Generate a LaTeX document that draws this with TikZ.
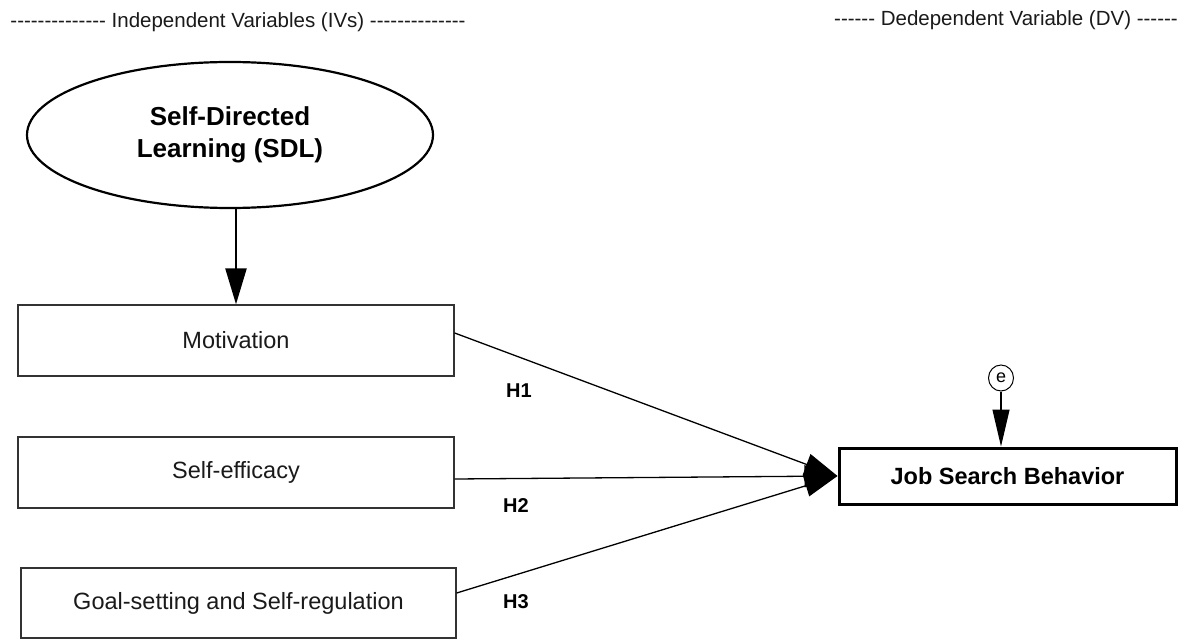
\documentclass[tikz,border=0pt]{standalone}
\usepackage{fontspec}
\setmainfont{Liberation Sans}[Ligatures=TeXOff]
\usetikzlibrary{shapes.geometric,arrows.meta}
\definecolor{ink}{HTML}{1A1A1A}
\definecolor{edge}{HTML}{333333}
\tikzset{
  ivbox/.style={draw=edge, line width=1.3pt, rectangle, inner sep=0pt, text=ink,
    font=\fontsize{23.5}{28}\selectfont},
  dvbox/.style={draw=black, line width=3pt, rectangle, inner sep=0pt, text=black,
    font=\bfseries\fontsize{23.5}{28}\selectfont},
  latent/.style={draw=black, line width=2.2pt, ellipse, inner sep=0pt, align=center,
    text=black, font=\bfseries\fontsize{26}{32}\selectfont},
  errnode/.style={draw=black, line width=1pt, ellipse, inner sep=0pt,
    minimum width=25pt, minimum height=26pt, font=\fontsize{18}{20}\selectfont},
  hlabel/.style={font=\bfseries\fontsize{20}{24}\selectfont, text=black, inner sep=0pt},
  header/.style={font=\fontsize{20.5}{24}\selectfont, text=ink, inner sep=0pt},
  patharrow/.style={draw=black, line width=1.3pt, -{Triangle[length=33pt,width=22pt]}},
  sdlarrow/.style={draw=black, line width=2.4pt, -{Triangle[length=36pt,width=21pt]}},
  errarrow/.style={draw=black, line width=1.2pt, -{Triangle[length=37pt,width=17pt]}}
}
\begin{document}
\begin{tikzpicture}[x=1pt,y=-1pt]
\useasboundingbox[fill=white] (0,0) rectangle (1183,639);

% headers
\node[header] (hiv) at (238,22) {-------------- Independent Variables (IVs) --------------};
\node[header] (hdv) at (1006,20) {------ Dedependent Variable (DV) ------};

% latent construct
\node[latent, minimum width=406pt, minimum height=146pt] (sdl) at (230,135)
  {Self-Directed\\Learning (SDL)};

% independent variables
\node[ivbox, minimum width=436pt, minimum height=71pt] (mot) at (236,340.5) {Motivation};
\node[ivbox, minimum width=436pt, minimum height=71pt] (eff) at (236,472.5) {Self-efficacy};
\node[ivbox, minimum width=435pt, minimum height=70pt] (goal) at (238.5,603) {Goal-setting and Self-regulation};

% dependent variable
\node[dvbox, minimum width=337pt, minimum height=56pt] (jsb) at (1007.5,476) {Job Search Behavior};
\node[errnode] (err) at (1001,378) {e};

% connectors
\draw[sdlarrow] ([xshift=6pt]sdl.south) -- (mot.north);
\draw[patharrow] ([yshift=7.5pt]mot.east) -- (jsb.west);
\draw[patharrow] ([yshift=-6.5pt]eff.east) -- (jsb.west);
\draw[patharrow] ([yshift=10pt]goal.east) -- (jsb.west);
\draw[errarrow] (err.south) -- (err.south |- jsb.north);

% hypothesis labels
\node[hlabel] (h1) at (519,391) {H1};
\node[hlabel] (h2) at (516,506) {H2};
\node[hlabel] (h3) at (516,602) {H3};
\end{tikzpicture}
\end{document}
